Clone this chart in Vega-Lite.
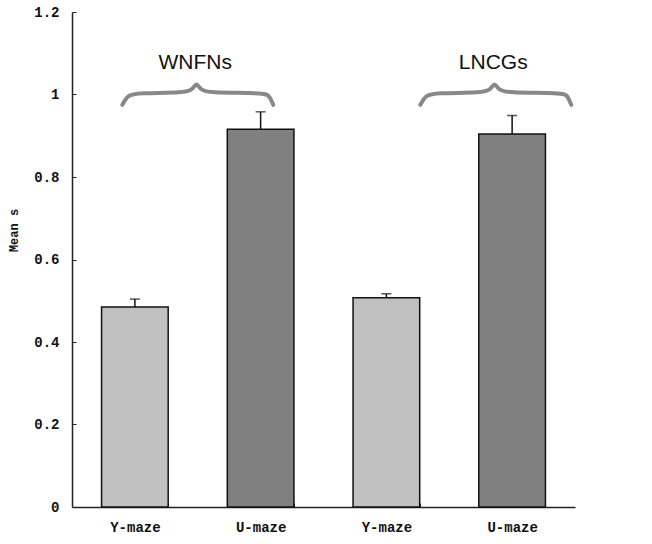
{
  "$schema": "https://vega.github.io/schema/vega-lite/v6.json",
  "width": 503,
  "height": 495,
  "autosize": {"type": "none"},
  "padding": {"left": 72, "top": 12, "right": 77, "bottom": 37},
  "background": "white",
  "config": {"view": {"stroke": null}},
  "datasets": {
    "bars": [
      {"cond": "WNFNs|Y-maze", "maze": "Y-maze", "mean": 0.485, "err": 0.019},
      {"cond": "WNFNs|U-maze", "maze": "U-maze", "mean": 0.916, "err": 0.042},
      {"cond": "LNCGs|Y-maze", "maze": "Y-maze", "mean": 0.507, "err": 0.010},
      {"cond": "LNCGs|U-maze", "maze": "U-maze", "mean": 0.904, "err": 0.045}
    ],
    "braces": [
      {"g": "WNFNs", "i": 0, "x": 0.40, "y": 0.975},
      {"g": "WNFNs", "i": 1, "x": 0.44, "y": 0.998},
      {"g": "WNFNs", "i": 2, "x": 0.52, "y": 1.004},
      {"g": "WNFNs", "i": 3, "x": 0.90, "y": 1.004},
      {"g": "WNFNs", "i": 4, "x": 0.96, "y": 1.012},
      {"g": "WNFNs", "i": 5, "x": 0.99, "y": 1.03},
      {"g": "WNFNs", "i": 6, "x": 1.02, "y": 1.012},
      {"g": "WNFNs", "i": 7, "x": 1.08, "y": 1.004},
      {"g": "WNFNs", "i": 8, "x": 1.52, "y": 1.004},
      {"g": "WNFNs", "i": 9, "x": 1.57, "y": 0.998},
      {"g": "WNFNs", "i": 10, "x": 1.60, "y": 0.975},
      {"g": "LNCGs", "i": 0, "x": 2.77, "y": 0.975},
      {"g": "LNCGs", "i": 1, "x": 2.81, "y": 0.998},
      {"g": "LNCGs", "i": 2, "x": 2.89, "y": 1.004},
      {"g": "LNCGs", "i": 3, "x": 3.27, "y": 1.004},
      {"g": "LNCGs", "i": 4, "x": 3.33, "y": 1.012},
      {"g": "LNCGs", "i": 5, "x": 3.36, "y": 1.03},
      {"g": "LNCGs", "i": 6, "x": 3.39, "y": 1.012},
      {"g": "LNCGs", "i": 7, "x": 3.45, "y": 1.004},
      {"g": "LNCGs", "i": 8, "x": 3.90, "y": 1.004},
      {"g": "LNCGs", "i": 9, "x": 3.94, "y": 0.998},
      {"g": "LNCGs", "i": 10, "x": 3.97, "y": 0.975}
    ],
    "labels": [
      {"g": "WNFNs", "x": 0.98, "y": 1.076},
      {"g": "LNCGs", "x": 3.35, "y": 1.076}
    ]
  },
  "layer": [
    {
      "data": {"name": "bars"},
      "encoding": {
        "x": {
          "field": "cond",
          "type": "nominal",
          "sort": null,
          "scale": {"paddingInner": 0.47, "paddingOuter": 0.235},
          "axis": {
            "title": null,
            "labelExpr": "split(datum.label, '|')[1]",
            "labelAngle": 0,
            "labelFont": "Liberation Mono",
            "labelFontSize": 14,
            "labelFontWeight": "bold",
            "labelColor": "#111",
            "labelPadding": 17,
            "tickBand": "extent",
            "tickSize": -4,
            "tickColor": "#222",
            "domainColor": "#222",
            "domainWidth": 1.5
          }
        },
        "y": {
          "type": "quantitative",
          "scale": {"domain": [0, 1.2], "nice": false},
          "axis": {
            "title": "Mean s",
            "values": [0, 0.2, 0.4, 0.6, 0.8, 1, 1.2],
            "grid": false,
            "labelFont": "Liberation Mono",
            "labelFontSize": 14,
            "labelFontWeight": "bold",
            "labelColor": "#111",
            "labelPadding": 17,
            "labelExpr": "datum.value == 0 ? '0' : datum.value == 1 ? '1' : format(datum.value, '.1f')",
            "tickSize": -4,
            "tickColor": "#222",
            "domainColor": "#222",
            "domainWidth": 1.5,
            "titleFont": "Liberation Mono",
            "titleFontSize": 12,
            "titleFontWeight": "bold",
            "titleColor": "#111",
            "titleX": -52,
            "titleY": 218
          }
        }
      },
      "layer": [
        {
          "mark": {"type": "bar", "stroke": "#111", "strokeWidth": 1.5},
          "encoding": {
            "y": {"field": "mean"},
            "color": {
              "field": "maze",
              "type": "nominal",
              "scale": {"domain": ["Y-maze", "U-maze"], "range": ["#c0c0c0", "#808080"]},
              "legend": null
            }
          }
        },
        {
          "transform": [{"calculate": "datum.mean + datum.err", "as": "hi"}],
          "mark": {"type": "rule", "color": "#111", "strokeWidth": 1.5},
          "encoding": {"y": {"field": "mean"}, "y2": {"field": "hi"}}
        },
        {
          "transform": [{"calculate": "datum.mean + datum.err", "as": "hi"}],
          "mark": {"type": "tick", "color": "#111", "thickness": 1.5, "size": 10},
          "encoding": {"y": {"field": "hi"}}
        }
      ]
    },
    {
      "data": {"name": "braces"},
      "mark": {"type": "line", "interpolate": "basis", "color": "#888", "strokeWidth": 4, "strokeCap": "round"},
      "encoding": {
        "x": {"field": "x", "type": "quantitative", "scale": {"domain": [0, 4], "nice": false}, "axis": null},
        "y": {"field": "y", "type": "quantitative"},
        "detail": {"field": "g"},
        "order": {"field": "i"}
      }
    },
    {
      "data": {"name": "labels"},
      "mark": {"type": "text", "font": "Liberation Sans", "fontSize": 21, "color": "#111"},
      "encoding": {
        "x": {"field": "x", "type": "quantitative", "scale": {"domain": [0, 4], "nice": false}, "axis": null},
        "y": {"field": "y", "type": "quantitative"},
        "text": {"field": "g"}
      }
    }
  ],
  "resolve": {"scale": {"x": "independent"}, "axis": {"x": "independent"}}
}
